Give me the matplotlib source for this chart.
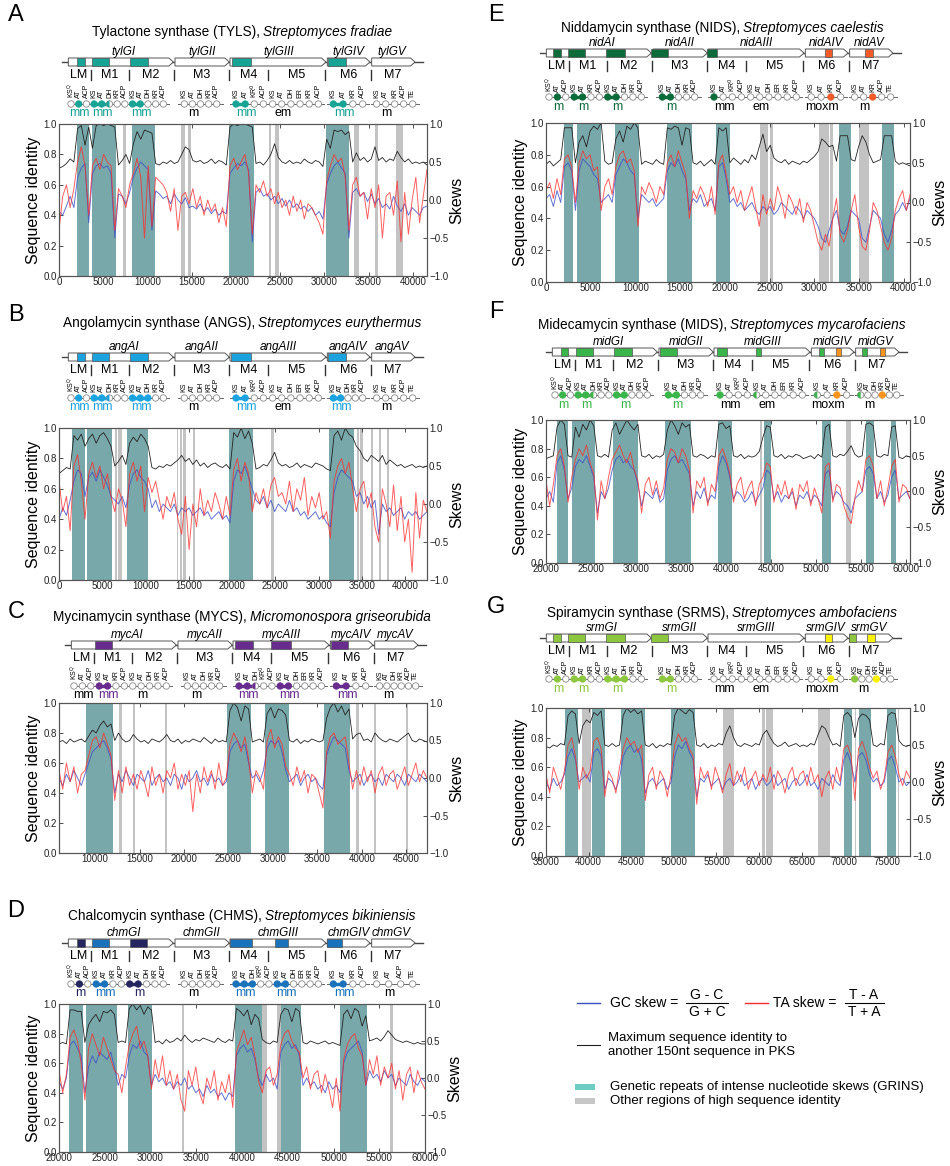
import matplotlib
matplotlib.use("Agg")
import matplotlib.pyplot as plt
import numpy as np
from matplotlib.patches import Circle, Wedge, Polygon, Rectangle
from matplotlib.ticker import MultipleLocator

plt.rcParams['font.family'] = ['Liberation Sans', 'DejaVu Sans']

W, H = 950, 1166

# ---------------- data ----------------
# Panel A - tylactone synthase
ident_A = [.71, .72, .74, .77, .75, .97, .99, .86, .98, .84,
           .99, 1.0, .99, 1.0, .99, .98, .73, .76, .80, .74,
           .87, .95, .90, .96, .95, .94, .74, .73, .75, .74,
           .76, .74, .75, .80, .85, .83, .76, .75, .76, .74,
           .75, .77, .74, .76, .75, .73, .98, 1.0, .99, 1.0,
           1.0, .99, .98, .74, .75, .73, .76, .80, .87, .78,
           .75, .74, .76, .74, .75, .74, .77, .75, .74, .76,
           .75, .72, .90, .84, .96, .95, .96, .93, .95, .75,
           .81, .76, .78, .75, .77, .85, .76, .78, .75, .77,
           .76, .82, .78, .75, .77, .74, .75, .74, .75, .73]
gc_A = [-.15, -.2, -.08, .05, -.1, .3, .42, .48, -.3, .35,
        .45, .48, .42, .45, .35, -.5, .08, .05, -.05, .1,
        .3, .42, .5, .45, .4, -.4, .12, .08, .02, .05,
        -.05, .08, 0, -.05, .03, -.1, -.08, -.12, -.05, -.15,
        -.1, -.18, -.12, -.2, -.15, -.18, .35, .42, .48, .45,
        .5, .4, -.55, .1, .15, .05, .08, 0, .05, -.05,
        .02, -.08, 0, -.1, -.05, -.12, -.08, -.15, -.1, -.2,
        -.15, -.25, .2, .35, .45, .5, .42, .35, -.5, .1,
        .15, .05, .1, -.02, .08, -.05, .02, -.1, -.05, -.12,
        .05, -.08, -.15, -.05, -.2, -.1, -.15, -.2, -.1, -.08]
ta_A = [-.4, .05, .2, -.1, .15, .5, .7, .45, -.2, .45,
        .55, .4, .6, .5, .45, -.4, .15, .05, -.1, .2,
        .35, .55, .3, -.5, .45, -.35, .3, .25, .2, .1,
        -.15, .15, -.4, .05, .1, -.05, .15, -.1, .05, -.2,
        0, -.15, -.05, -.3, -.1, -.35, .45, .55, .4, .5,
        .6, .35, -.45, .2, .1, .25, .05, .15, -.05, .1,
        -.1, 0, -.2, .05, -.15, 0, -.25, -.05, -.1, -.2,
        -.3, -.45, .25, .45, .6, .5, .55, .3, -.4, .2,
        .3, .05, .1, -.25, .15, -.1, .2, -.5, .05, .1,
        -.2, .25, -.55, .1, -.45, 0, .3, -.3, .05, .4]
teal_A = [(2000, 3400), (3700, 6430), (8230, 10870), (19250, 22000), (30230, 32830)]
grey_A = [(7280, 7580), (13800, 14200), (14570, 14940), (23700, 24000), (24450, 24830),
          (33400, 33890), (35700, 36070), (38150, 38500), (38550, 38870)]

# Panel B - angolamycin synthase
ident_B = [.70, .72, .74, .73, .95, .92, .96, .88, .93, .96,
           .90, .95, .97, .93, .88, .75, .78, .82, .76, .90,
           .94, .91, .96, .93, .88, .74, .73, .75, .74, .76,
           .75, .77, .79, .82, .78, .80, .76, .79, .75, .77,
           .74, .76, .77, .75, .74, .76, .73, .97, .94, 1.0,
           .93, .98, .90, .73, .74, .76, .75, .79, .84, .77,
           .75, .76, .74, .75, .77, .74, .76, .75, .74, .77,
           .76, .75, .73, .72, .95, .98, .92, 1.0, .96, .94,
           .88, .85, .80, .78, .82, .80, .78, .82, .76, .79,
           .77, .75, .76, .74, .75, .76, .74, .75, .74, .75]
gc_B = [-.2, -.05, -.15, .05, .3, .45, .4, .1, .35, .42,
        .3, .45, .35, .25, .1, .05, 0, .1, -.05, .25,
        .4, .45, .35, .3, .2, -.05, .05, -.1, 0, -.05,
        -.1, 0, -.15, -.05, -.1, -.05, -.15, -.1, -.05, -.15,
        -.1, -.2, -.15, -.1, -.2, -.15, -.25, .3, .45, .4,
        .5, .35, .2, .05, 0, .1, -.05, .05, -.1, 0,
        -.05, -.1, .05, -.1, -.05, -.15, -.1, -.2, -.15, -.1,
        -.2, -.15, -.25, -.3, .15, .35, .45, .4, .35, .3,
        .1, .15, 0, .1, -.05, .05, -.4, 0, -.1, -.05,
        -.15, -.1, -.05, -.2, -.1, -.15, -.1, -.2, -.15, -.1]
ta_B = [.3, -.1, .1, -.35, .5, .65, .3, -.2, .4, .55,
        .35, .5, .2, .4, .1, -.1, .2, .05, -.3, .4,
        .55, .3, .5, -.1, .35, .15, .3, .05, -.2, .1,
        -.05, .15, -.2, -.4, .1, -.6, 0, -.3, .2, -.15,
        .05, -.1, .15, 0, -.2, .1, -.15, .45, .6, .3,
        .55, .4, -.1, .15, 0, .2, -.05, .25, .35, .1,
        .15, 0, .3, -.1, .2, .05, .35, -.15, .1, -.05,
        .15, -.2, -.1, -.45, .3, .5, .6, .4, .55, .2,
        -.1, .2, .3, -.05, .15, -.3, -.5, .2, 0, -.3,
        .25, -.35, .1, -.5, -.2, -.9, .15, -.45, .05, -.1]
teal_B = [(1540, 3000), (3280, 6130), (7820, 10330), (19690, 22390), (31210, 34030)]
grey_B = [(6470, 6750), (6850, 7240), (13600, 13800), (14000, 14180), (14370, 14640),
          (15530, 15720), (24510, 24780), (34410, 34700), (34800, 35100), (36030, 36260),
          (36920, 37230), (37880, 38110)]

# Panel C - mycinamycin synthase
ident_C = [.74, .75, .73, .76, .74, .75, .76, .74, .78, .82,
           .80, .85, .88, .84, .86, .75, .80, .76, .74, .75,
           .79, .76, .74, .75, .73, .76, .75, .74, .76, .79,
           .75, .74, .76, .73, .75, .74, .76, .75, .74, .77,
           .75, .73, .76, .74, .75, .74, .95, 1.0, .97, .88,
           .98, .96, .74, .75, .76, .74, .93, .97, .90, .96,
           .95, .92, .75, .74, .76, .73, .75, .74, .76, .75,
           .74, .75, .90, .97, 1.0, .94, .98, .92, .96, .76,
           .79, .80, .75, .76, .74, .80, .77, .75, .74, .76,
           .75, .74, .76, .78, .80, .75, .74, .76, .75, .74]
gc_C = [0, -.1, .05, -.05, .1, 0, -.1, .05, .2, .35,
        .4, .45, .5, .4, .25, -.2, .05, -.05, .1, 0,
        -.1, .05, 0, -.05, .1, -.1, 0, .05, -.05, 0,
        -.1, .05, 0, -.15, .05, -.05, 0, .1, -.05, 0,
        -.1, .05, -.05, 0, -.1, -.05, .35, .45, .5, .4,
        .45, .2, 0, .05, -.05, .1, .4, .5, .45, .5,
        .35, .1, -.05, 0, .05, -.1, 0, .05, -.05, 0,
        -.1, -.15, .3, .45, .55, .5, .45, .4, .1, -.05,
        0, .05, -.1, 0, .05, -.05, 0, -.1, .05, 0,
        -.05, .05, 0, -.1, .05, 0, -.05, .05, 0, -.05]
ta_C = [.1, -.15, .2, -.05, .15, -.2, .05, .1, .3, .5,
        .55, .4, .6, .45, .3, -.3, .1, -.2, .15, -.1,
        .05, -.15, .1, -.05, -.25, .15, -.1, .05, -.2, .1,
        0, .2, -.15, .05, -.1, .1, -.45, .05, -.2, .15,
        -.05, .1, -.15, .2, -.1, 0, .45, .6, .5, .35,
        .55, .25, -.2, .1, 0, -.15, .5, .65, .4, .55,
        .45, .15, .05, -.1, .15, -.05, .1, -.2, .05, 0,
        -.2, -.4, .35, .55, .6, .45, .5, .55, .2, -.15,
        .1, -.1, .15, -.05, .1, -.2, .05, .15, -.1, .05,
        .1, -.15, 0, .15, -.1, .05, .2, -.05, .1, 0]
teal_C = [(8980, 11990), (24790, 27500), (29080, 31830), (35700, 38680)]
grey_C = [(12630, 13010), (14250, 14510), (17900, 18090), (39350, 39730),
          (41350, 41610), (44930, 45190)]

# Panel D - chalcomycin synthase
ident_D = [.73, .74, .73, .96, .96, .95, .95, .74, .86, .90,
           .93, .88, .95, .94, .96, .93, .74, .75, .74, .97,
           1.0, .96, .99, .93, .98, .96, .74, .75, .73, .76,
           .74, .75, .77, .75, .79, .76, .74, .76, .75, .77,
           .76, .75, .74, .77, .75, .74, .76, .75, .97, .95,
           .92, .96, .86, .93, .90, .76, .74, .73, .75, .74,
           .93, .97, .96, .88, .97, .95, .74, .73, .75, .74,
           .73, .74, .75, .73, .74, .73, .72, .93, .96, .90,
           .97, .95, .85, .92, .75, .76, .77, .75, .78, .82,
           .79, .76, .75, .74, .75, .74, .73, .74, .73, .73]
gc_D = [-.05, -.15, 0, .45, .5, .4, .3, -.2, .15, .3,
        .2, .35, .3, .25, .35, .15, -.1, .05, 0, .3,
        .45, .4, .5, .35, .3, -.1, .05, -.05, 0, -.1,
        -.05, -.15, -.05, -.1, 0, -.15, -.1, -.2, -.15, -.25,
        -.1, -.2, -.15, -.25, -.2, -.3, -.2, -.25, .3, .4,
        .45, .35, .4, .25, 0, -.1, .05, -.05, 0, -.15,
        .35, .45, .5, .4, .45, .3, -.1, 0, -.1, -.05,
        -.15, -.1, -.2, -.05, -.15, -.1, -.2, .2, .35, .4,
        .45, .5, .35, -.1, .1, 0, .05, -.05, .1, 0,
        .05, -.1, 0, -.05, -.1, .05, -.05, -.1, 0, -.05]
ta_D = [.1, -.2, .05, .55, .65, .5, .2, -.3, .4, .6,
        .45, .3, .55, .4, .25, .1, .05, -.2, .15, .45,
        .6, .7, .4, .5, .3, -.15, .25, 0, .3, -.1,
        .1, -.15, .05, -.3, -.45, .1, -.1, .15, -.2, -.35,
        0, -.15, .1, -.3, -.05, -.2, .05, -.4, .35, .5,
        .65, .45, .55, .3, -.05, -.2, .1, .15, -.1, .05,
        .45, .6, .65, .5, .4, .35, 0, .15, -.15, .05,
        .1, -.2, .05, -.15, -.4, 0, -.45, .25, .45, .55,
        .6, .4, .3, -.1, .25, .05, .3, -.1, .15, 0,
        .2, -.15, .1, -.3, .05, .15, -.2, .1, -.05, -.15]
teal_D = [(21130, 22590), (22950, 26380), (27500, 30130), (39240, 42150),
          (44260, 46450), (50710, 53620)]
grey_D = [(33480, 33660), (42150, 42700), (43860, 44230), (56170, 56470)]

# Panel E - niddamycin synthase
ident_E = [.74, .76, .73, .75, .77, .97, .97, .97, .75, .88,
           .92, .85, .95, .98, .96, 1.0, .76, .74, .75, .90,
           .95, .88, .98, .96, 1.0, .97, .74, .76, .75, .74,
           .77, .75, .74, .97, .96, .98, .97, .86, .97, .96,
           .75, .74, .76, .73, .75, .77, .74, .97, .95, .97,
           .75, .78, .76, .74, .77, .75, .80, .77, .85, .93,
           .82, .86, .78, .76, .75, .77, .74, .76, .75, .74,
           .76, .75, .77, .79, .82, .90, .88, .85, .86, .76,
           .92, .92, .92, .77, .76, .85, .92, .88, .80, .75,
           .76, .77, .92, .92, .92, .76, .74, .75, .74, .73]
gc_E = [.05, .1, -.05, .15, 0, .45, .5, .4, -.1, .4,
        .55, .5, .45, .35, .3, 0, .05, .1, 0, .35,
        .45, .55, .5, .4, .35, -.2, .1, .05, 0, .05,
        -.05, 0, .05, .4, .5, .45, .55, .4, .3, -.1,
        .05, 0, .1, -.05, 0, .05, -.1, .45, .5, .3,
        0, .05, -.05, 0, -.1, -.05, 0, -.1, -.15, -.05,
        -.1, -.05, -.15, -.1, 0, -.05, -.1, -.15, -.05, -.1,
        -.2, -.1, -.15, -.2, -.3, -.45, -.5, -.35, -.2, -.1,
        -.35, -.4, -.3, -.1, -.15, -.2, -.45, -.5, -.3, -.1,
        -.15, -.2, -.4, -.5, -.35, -.15, -.1, 0, -.1, .05]
ta_E = [.15, .25, .05, .3, .1, .55, .6, .45, 0, .5,
        .65, .55, .6, .4, .45, -.1, .2, .3, .1, .45,
        .6, .65, .5, .55, .4, -.3, .2, .1, .25, .15,
        0, .2, .1, .5, .6, .45, .65, .5, .35, -.2,
        .15, .05, .2, .1, -.05, .2, -.15, .5, .6, .35,
        .1, .2, 0, .15, -.1, .05, .2, -.05, -.3, .1,
        -.15, .05, -.1, .2, .05, -.2, .1, 0, -.15, .05,
        -.25, 0, -.1, -.3, -.5, -.6, -.4, -.55, -.2, .05,
        -.4, -.5, -.35, -.1, .1, -.3, -.55, -.6, -.35, 0,
        -.1, -.3, -.5, -.6, -.45, -.1, .05, .15, -.1, .1]
teal_E = [(2030, 3030), (3480, 6170), (7760, 10430), (13490, 16270), (19040, 20520),
          (32790, 34090), (37600, 38890)]
grey_E = [(23920, 24840), (25030, 25400), (30570, 31680), (31790, 32050), (35010, 36120)]

# Panel F - midecamycin synthase
ident_F = [.73, .74, .75, .95, 1.0, .97, .75, .74, .95, .88,
           .97, .93, 1.0, .96, .75, .74, .76, .74, .93, .98,
           .90, .95, 1.0, .96, .93, .97, .75, .74, .76, .73,
           .75, .74, .76, .93, 1.0, .96, .90, .98, .95, .97,
           .75, .74, .76, .75, .73, .75, .74, .97, .98, .94,
           .96, .75, .74, .76, .73, .75, .74, .75, .78, .88,
           .96, .95, .75, .74, .76, .73, .75, .74, .76, .75,
           .73, .74, .75, .73, .76, .74, .95, .97, .75, .74,
           .76, .75, .78, .82, .76, .74, .75, .97, .98, .96,
           .75, .74, .76, .75, .95, .96, .74, .73, .75, .74]
gc_F = [-.1, 0, -.15, .4, .5, .3, -.1, .05, .35, .45,
        .4, .5, .35, .2, -.3, 0, -.1, .05, .3, .45,
        .5, .4, .45, .35, .3, .1, -.2, 0, -.05, -.1,
        .05, -.15, -.1, .3, .45, .5, .4, .45, .35, .25,
        -.2, 0, -.1, .05, -.15, -.05, -.1, .35, .5, .4,
        .2, -.1, 0, -.05, -.15, -.1, 0, -.15, -.05, .05,
        .3, .25, -.1, 0, -.15, -.05, -.1, 0, -.2, -.05,
        -.1, 0, -.15, -.05, -.1, -.2, .25, .3, -.1, 0,
        -.05, -.15, -.2, -.3, -.1, -.05, 0, .3, .35, .25,
        -.1, 0, -.15, -.05, .2, .3, -.1, -.05, 0, -.1]
ta_F = [.15, -.2, .1, .5, .6, .35, -.15, .2, .45, .6,
        .5, .65, .4, .25, -.4, .15, -.1, .2, .45, .55,
        .65, .5, .4, .55, .3, .15, -.3, .1, .2, -.05,
        .15, -.1, .05, .45, .6, .55, .4, .6, .5, .3,
        -.3, .15, .05, .2, -.2, .1, 0, .5, .6, .45,
        .25, -.15, .1, .2, -.1, .05, .15, -.2, .1, .2,
        .4, .35, -.15, .1, -.05, .15, -.1, .05, -.25, .1,
        0, .15, -.2, .05, -.1, -.3, .35, .4, -.15, .1,
        .05, -.2, -.35, -.45, -.1, .15, 0, .45, .5, .35,
        -.1, .15, -.2, .05, .35, .45, -.15, .1, .05, -.1]
teal_F = [(21250, 22450), (22930, 25460), (27400, 30220), (33190, 36080), (39050, 40590),
          (44180, 44980), (50660, 51580), (55490, 56410), (58280, 58830)]
grey_F = [(43700, 43960), (49700, 49800), (53330, 53850)]

# Panel G - spiramycin synthase
ident_G = [.74, .73, .75, .74, .76, .75, .95, .98, .96, .76,
           .88, .92, .90, .97, .95, .98, .75, .74, .76, .74,
           .75, .95, 1.0, .97, .99, .96, .98, .75, .74, .76,
           .73, .75, .74, .76, .75, .95, 1.0, .98, .96, .99,
           .97, .75, .74, .76, .73, .75, .74, .76, .75, .83,
           .88, .80, .75, .74, .76, .75, .74, .76, .75, .82,
           .85, .80, .76, .74, .75, .77, .74, .75, .76, .74,
           .75, .74, .76, .75, .82, .88, .86, .80, .75, .76,
           .74, .95, .97, .94, .80, .93, .96, .95, .92, .75,
           .74, .76, .75, .95, .97, .96, .78, .75, .74, .75]
gc_G = [0, -.1, .05, -.05, 0, .1, .35, .45, .3, 0,
        .05, .1, 0, .4, .45, .35, -.1, .05, 0, -.1,
        .05, .35, .45, .5, .4, .45, .3, -.15, 0, .05,
        -.05, 0, .05, -.1, 0, .35, .5, .45, .55, .4,
        .3, -.2, .05, 0, .1, -.05, 0, .05, -.1, 0,
        .05, -.05, 0, .1, -.05, 0, .05, -.1, 0, .05,
        -.05, 0, .1, -.05, 0, .05, -.1, 0, .05, -.05,
        0, .1, -.05, 0, -.1, .05, 0, -.05, .1, 0,
        -.05, .3, .4, .25, 0, .35, .4, .3, .1, 0,
        .05, -.05, 0, .3, .35, .2, 0, .05, -.05, 0]
ta_G = [.1, -.15, .2, .05, -.1, .15, .5, .6, .35, -.1,
        .2, .05, .15, .55, .6, .45, -.2, .15, .05, -.15,
        .2, .45, .6, .5, .55, .4, .5, -.25, .1, .2,
        -.1, .15, .05, -.2, .1, .5, .65, .55, .6, .45,
        .35, -.3, .2, .05, .15, -.1, .2, .05, -.15, .1,
        .25, -.05, .15, 0, .2, -.1, .05, .15, -.05, .1,
        0, .2, -.1, .15, .05, -.15, .1, .2, -.05, .1,
        .15, -.05, .2, 0, .1, -.2, .05, .15, -.1, .2,
        0, .45, .5, .35, -.25, .45, .55, .4, .2, .05,
        .15, -.1, .05, .4, .5, .35, .1, -.05, .15, .05]
teal_G = [(37220, 38780), (40450, 41890), (43840, 46570), (49680, 52520),
          (69930, 70900), (71680, 73160), (75000, 76040)]
grey_G = [(39170, 40330), (55720, 57080), (60310, 60700), (60860, 61640),
          (66930, 68290), (71210, 71410), (76280, 76430)]

# ---------------- diagram vocabulary ----------------
KSQ = 'KS$^{\\rm Q}$'
KR0 = 'KR$^{\\rm 0}$'
LM = [KSQ, 'AT', 'ACP']
M_KR = ['KS', 'AT', 'KR', 'ACP']
M_DH = ['KS', 'AT', 'DH', 'KR', 'ACP']
M_ER = ['KS', 'AT', 'DH', 'ER', 'KR', 'ACP']
M_KR0 = ['KS', 'AT', KR0, 'ACP']
M_DHKR0 = ['KS', 'AT', 'DH', KR0, 'ACP']

MODULE_NAMES = ['LM', 'M1', 'M2', 'M3', 'M4', 'M5', 'M6', 'M7']
MODULE_X = [235, 330, 452, 605, 745, 890, 1045, 1178]
SEPARATORS = [272, 388, 522, 688, 805, 975, 1112]
GENE_SPANS = [(205, 520), (525, 688), (690, 978), (982, 1110), (1115, 1245)]
GENE_NAME_X = [372, 605, 835, 1045, 1175]
GENE_MODULES = [[0, 1, 2], [3], [4, 5], [6], [7]]
CIRCLE_SPANS = [(213, 490), (553, 650), (708, 955), (1000, 1088), (1130, 1238)]

panels = [
    dict(letter='A', title='Tylactone synthase (TYLS),', species='Streptomyces fradiae',
         genes=['tylGI', 'tylGII', 'tylGIII', 'tylGIV', 'tylGV'],
         colors={'a': '#17a495', 'b': '#17a495'},
         modules=[LM, M_DH, M_DH, M_DH, M_KR0, M_ER, M_KR, M_KR + ['TE']],
         fills=['.a.', 'aaA..', 'aa...', '.....', 'aa..', '......', 'aa..', '.....'],
         mlabels=[('mm', 'a'), ('mm', 'a'), ('mm', 'a'), ('m', 'k'), ('mm', 'a'), ('em', 'k'), ('mm', 'a'), ('m', 'k')],
         blocks=[(230, 255, 'a'), (275, 328, 'a'), (390, 445, 'a'), (695, 752, 'a'), (985, 1037, 'a')],
         xoff=0, shift=0, letter_y=15, title_y=32, arrow_y=62, circ_y=104,
         rect=(59, 124, 427, 276), xlim=(0, 41600),
         ident=ident_A, gc=gc_A, ta=ta_A, teal=teal_A, grey=grey_A),
    dict(letter='B', title='Angolamycin synthase (ANGS),', species='Streptomyces eurythermus',
         genes=['angAI', 'angAII', 'angAIII', 'angAIV', 'angAV'],
         colors={'a': '#1ba3e0', 'b': '#1ba3e0'},
         modules=[LM, M_DH, M_DH, M_DH, M_KR0, M_ER, M_DH, M_KR + ['TE']],
         fills=['.a.', 'aaA..', 'aaa..', '.....', 'aa..', '......', 'aa...', '.....'],
         mlabels=[('mm', 'a'), ('mm', 'a'), ('mm', 'a'), ('m', 'k'), ('mm', 'a'), ('em', 'k'), ('mm', 'a'), ('m', 'k')],
         blocks=[(230, 255, 'a'), (275, 328, 'a'), (390, 445, 'a'), (692, 752, 'a'), (985, 1037, 'a')],
         xoff=0, shift=0, letter_y=315, title_y=323, arrow_y=357, circ_y=398,
         rect=(59, 428, 427, 580), xlim=(0, 42500),
         ident=ident_B, gc=gc_B, ta=ta_B, teal=teal_B, grey=grey_B),
    dict(letter='C', title='Mycinamycin synthase (MYCS),', species='Micromonospora griseorubida',
         genes=['mycAI', 'mycAII', 'mycAIII', 'mycAIV', 'mycAV'],
         colors={'a': '#682b8e', 'b': '#682b8e'},
         modules=[LM, M_KR, M_DH, M_DH, M_DHKR0, M_ER, M_KR, M_DH + ['TE']],
         fills=['...', 'aa..', '.....', '.....', 'aaA..', 'aa....', 'aa..', '......'],
         mlabels=[('mm', 'k'), ('mm', 'a'), ('m', 'k'), ('m', 'k'), ('mm', 'a'), ('mm', 'a'), ('mm', 'a'), ('m', 'k')],
         blocks=[(275, 328, 'a'), (695, 750, 'a'), (805, 863, 'a'), (985, 1035, 'a')],
         xoff=0, shift=3, letter_y=612, title_y=617, arrow_y=645, circ_y=686,
         rect=(59, 703, 427, 853), xlim=(5935, 47330),
         ident=ident_C, gc=gc_C, ta=ta_C, teal=teal_C, grey=grey_C),
    dict(letter='D', title='Chalcomycin synthase (CHMS),', species='Streptomyces bikiniensis',
         genes=['chmGI', 'chmGII', 'chmGIII', 'chmGIV', 'chmGV'],
         colors={'a': '#25255f', 'b': '#1a73ba'},
         modules=[LM, M_KR, M_DH, M_DH, M_DHKR0, M_ER, M_KR, ['KS', 'AT', 'ACP', 'TE']],
         fills=['.a.', 'bb..', 'aa...', '.....', 'bbb..', 'bb....', 'bb..', '....'],
         mlabels=[('m', 'a'), ('mm', 'b'), ('m', 'a'), ('m', 'k'), ('mm', 'b'), ('mm', 'b'), ('mm', 'b'), ('m', 'k')],
         blocks=[(230, 255, 'a'), (275, 328, 'b'), (390, 442, 'a'), (690, 757, 'b'), (825, 865, 'b'), (980, 1027, 'b')],
         xoff=0, shift=0, letter_y=911, title_y=916, arrow_y=943, circ_y=984,
         rect=(59, 1004, 425, 1152), xlim=(20000, 60000),
         ident=ident_D, gc=gc_D, ta=ta_D, teal=teal_D, grey=grey_D),
    dict(letter='E', title='Niddamycin synthase (NIDS),', species='Streptomyces caelestis',
         genes=['nidAI', 'nidAII', 'nidAIII', 'nidAIV', 'nidAV'],
         colors={'a': '#0b6b3a', 'b': '#f15a29'},
         modules=[LM, M_KR, M_DH, M_DH, M_KR0, M_ER, M_KR, M_KR + ['TE']],
         fills=['.a.', 'aa..', 'aa...', 'aa...', 'a...', '......', '..b.', '..b..'],
         mlabels=[('m', 'a'), ('m', 'a'), ('m', 'a'), ('m', 'a'), ('mm', 'k'), ('em', 'k'), ('moxm', 'k'), ('m', 'k')],
         blocks=[(225, 250, 'a'), (270, 322, 'a'), (385, 440, 'a'), (518, 570, 'a'), (688, 718, 'a'),
                 (1040, 1062, 'b'), (1162, 1185, 'b')],
         xoff=480, shift=-2, letter_y=15, title_y=28, arrow_y=53, circ_y=97,
         rect=(546, 123, 910, 282), xlim=(0, 40700),
         ident=ident_E, gc=gc_E, ta=ta_E, teal=teal_E, grey=grey_E),
    dict(letter='F', title='Midecamycin synthase (MIDS),', species='Streptomyces mycarofaciens',
         genes=['midGI', 'midGII', 'midGIII', 'midGIV', 'midGV'],
         colors={'a': '#39b54a', 'b': '#f7941d'},
         modules=[LM, M_DH, M_DH, M_DH, M_KR0, M_ER, M_KR, M_DH + ['TE']],
         fills=['.a.', 'aaA..', 'aa...', 'aa...', 'a...', 'A.....', 'A.b.', 'A..b..'],
         mlabels=[('m', 'a'), ('m', 'a'), ('m', 'a'), ('m', 'a'), ('mm', 'k'), ('em', 'k'), ('moxm', 'k'), ('m', 'k')],
         blocks=[(230, 253, 'a'), (275, 327, 'a'), (390, 445, 'a'), (528, 580, 'a'), (698, 728, 'a'),
                 (815, 832, 'a'), (1005, 1020, 'a'), (1055, 1070, 'b'), (1133, 1148, 'a'), (1188, 1203, 'b')],
         xoff=480, shift=4, letter_y=312, title_y=325, arrow_y=352, circ_y=395,
         rect=(546, 420, 910, 563), xlim=(20000, 60400),
         ident=ident_F, gc=gc_F, ta=ta_F, teal=teal_F, grey=grey_F),
    dict(letter='G', title='Spiramycin synthase (SRMS),', species='Streptomyces ambofaciens',
         genes=['srmGI', 'srmGII', 'srmGIII', 'srmGIV', 'srmGV'],
         colors={'a': '#8dc63f', 'b': '#fff200'},
         modules=[LM, M_KR, M_DH, M_DH, M_KR0, M_ER, M_KR, M_DH + ['TE']],
         fills=['.a.', 'aa..', 'aaa..', 'aa...', '....', '......', '..b.', 'a..b..'],
         mlabels=[('m', 'a'), ('m', 'a'), ('m', 'a'), ('m', 'a'), ('mm', 'k'), ('em', 'k'), ('moxm', 'k'), ('m', 'k')],
         blocks=[(225, 250, 'a'), (270, 322, 'a'), (385, 440, 'a'), (518, 570, 'a'),
                 (1040, 1063, 'b'), (1112, 1135, 'a'), (1168, 1192, 'b')],
         xoff=480, shift=-2, letter_y=607, title_y=613, arrow_y=638, circ_y=679,
         rect=(546, 708, 910, 856), xlim=(35000, 77700),
         ident=ident_G, gc=gc_G, ta=ta_G, teal=teal_G, grey=grey_G),
]

TEAL = '#79a8aa'
GREY = '#c3c3c3'
EDGE = '#555555'

fig = plt.figure(figsize=(9.5, 11.66), dpi=100)
cv = fig.add_axes([0, 0, 1, 1])
cv.set_xlim(0, W)
cv.set_ylim(H, 0)
cv.axis('off')
renderer = fig.canvas.get_renderer()


def draw_diagram(p):
    X = lambda z: p['xoff'] + p['shift'] + z / 3.0
    cols = dict(p['colors'], k='black')
    ya, yc = p['arrow_y'], p['circ_y']
    h = 4.0
    cv.plot([X(185), X(1270)], [ya, ya], color='#444444', lw=1.0, zorder=1)
    for (z0, z1), name, gx in zip(GENE_SPANS, p['genes'], GENE_NAME_X):
        x0, x1 = X(z0), X(z1)
        tip = 4.5
        cv.add_patch(Polygon([(x0, ya - h), (x1 - tip, ya - h), (x1, ya), (x1 - tip, ya + h), (x0, ya + h)],
                             closed=True, fc='white', ec=EDGE, lw=0.7, zorder=2))
        cv.text(X(gx), ya - 10, name, style='italic', fontsize=8.5, ha='center', va='center')
    for z0, z1, ck in p['blocks']:
        cv.add_patch(Rectangle((X(z0), ya - h), X(z1) - X(z0), 2 * h, fc=cols[ck], ec=EDGE,
                               lw=0.5, zorder=3))
    # module names
    for name, mx in zip(MODULE_NAMES, MODULE_X):
        cv.text(X(mx), ya + 13, name, fontsize=9, ha='center', va='center')
    for sx in SEPARATORS:
        cv.plot([X(sx), X(sx)], [ya + 8, ya + 18], color='#333333', lw=1.0)
    # domains
    r = 3.2
    for g, mods in enumerate(GENE_MODULES):
        doms = []
        for m in mods:
            for d, lab in enumerate(p['modules'][m]):
                doms.append((m, d, lab, p['fills'][m][d]))
        xs = np.linspace(X(CIRCLE_SPANS[g][0]), X(CIRCLE_SPANS[g][1]), len(doms))
        left = xs[0] if g == 0 else xs[0] - 6
        cv.plot([left, xs[-1] + 6], [yc, yc], color='#666666', lw=0.7, zorder=1)
        for k in range(len(doms) - 1):
            c1, c2 = doms[k][3], doms[k + 1][3]
            if c1 in 'ab' and c2.lower() == c1:
                cv.plot([xs[k], xs[k + 1]], [yc, yc], color=cols[c1], lw=2.5, zorder=2)
        for x, (m, d, lab, code) in zip(xs, doms):
            if code in 'ab':
                cv.add_patch(Circle((x, yc), r, fc=cols[code], ec=cols[code], lw=0.6, zorder=3))
            else:
                cv.add_patch(Circle((x, yc), r, fc='white', ec='#888888', lw=0.6, zorder=3))
                if code in 'AB':
                    cv.add_patch(Wedge((x, yc), r, 90, 270, fc=cols[code.lower()], ec='none', zorder=4))
            cv.text(x, yc - 5.5, lab, rotation=90, fontsize=5, ha='center', va='bottom')
        # modification labels sit under the AT domain of each module
        for m in mods:
            mxs = [x for x, dd in zip(xs, doms) if dd[0] == m]
            txt, ck = p['mlabels'][m]
            cv.text(mxs[1] + 1, yc + 9.5, txt, fontsize=9, ha='center', va='center', color=cols[ck])


def draw_title(p):
    cx = p['xoff'] + 242
    y = p['title_y']
    t1 = cv.text(0, y, p['title'], fontsize=9.8, ha='left', va='center')
    t2 = cv.text(0, y, p['species'], fontsize=9.8, style='italic', ha='left', va='center')
    w1 = t1.get_window_extent(renderer).width
    w2 = t2.get_window_extent(renderer).width
    gap = 3.0
    x0 = cx - (w1 + gap + w2) / 2
    t1.set_x(x0)
    t2.set_x(x0 + w1 + gap)
    cv.text(p['xoff'] + 16, p['letter_y'], p['letter'], fontsize=17, ha='center', va='center')


def draw_plot(p):
    x0, y0, x1, y1 = p['rect']
    ax = fig.add_axes([x0 / W, 1 - y1 / H, (x1 - x0) / W, (y1 - y0) / H])
    ax2 = ax.twinx()
    for a, b in p['grey']:
        ax.axvspan(a, b, color=GREY, lw=0, zorder=1)
    for a, b in p['teal']:
        ax.axvspan(a, b, color=TEAL, lw=0, zorder=2)
    xi = np.linspace(p['xlim'][0], p['xlim'][1], len(p['ident']))
    ax.plot(xi, p['ident'], color='#222222', lw=0.6, zorder=3)
    xg = np.linspace(p['xlim'][0], p['xlim'][1], len(p['gc']))
    xt = np.linspace(p['xlim'][0], p['xlim'][1], len(p['ta']))
    ax2.plot(xg, p['gc'], color='#3b4fc4', lw=0.7, alpha=0.8)
    ax2.plot(xt, p['ta'], color='#ff2a2a', lw=0.7, alpha=0.75)
    ax.set_xlim(*p['xlim'])
    ax.set_ylim(0, 1)
    ax2.set_ylim(-1, 1)
    ax.set_yticks([0, 0.2, 0.4, 0.6, 0.8, 1.0])
    ax2.set_yticks([-1, -0.5, 0, 0.5, 1])
    ax.xaxis.set_major_locator(MultipleLocator(5000))
    ax.set_ylabel('Sequence identity', fontsize=11.5, labelpad=2)
    ax2.set_ylabel('Skews', fontsize=11.5, labelpad=1)
    for a in (ax, ax2):
        a.tick_params(direction='in', length=3, width=0.6, labelsize=7, pad=1.5, colors='#333333',
                      labelcolor='#222222')
        for s in a.spines.values():
            s.set_color('#555555')
            s.set_linewidth(0.8)
    ax.tick_params(axis='x', top=True, pad=1)


for p in panels:
    draw_diagram(p)
    draw_title(p)
    draw_plot(p)

# ---------------- legend ----------------
cv.plot([577, 600], [1003, 1003], color='#3b4fc4', lw=1.0)
cv.text(610, 1003, 'GC skew =', fontsize=10, va='center', ha='left')
cv.text(707, 995, 'G - C', fontsize=10, va='center', ha='center')
cv.plot([686, 728], [1003, 1003], color='black', lw=0.8)
cv.text(707, 1012, 'G + C', fontsize=10, va='center', ha='center')
cv.plot([745, 768], [1003, 1003], color='#ff2a2a', lw=1.0)
cv.text(773, 1003, 'TA skew =', fontsize=10, va='center', ha='left')
cv.text(864, 995, 'T - A', fontsize=10, va='center', ha='center')
cv.plot([845, 884], [1003, 1003], color='black', lw=0.8)
cv.text(864, 1012, 'T + A', fontsize=10, va='center', ha='center')

cv.plot([577, 600], [1045, 1045], color='#222222', lw=0.8)
cv.text(608, 1038, 'Maximum sequence identity to', fontsize=9.5, va='center', ha='left')
cv.text(608, 1052, 'another 150nt sequence in PKS', fontsize=9.5, va='center', ha='left')
cv.add_patch(Rectangle((575, 1084), 20, 6, fc='#6dcdc3', ec='none'))
cv.text(610, 1087, 'Genetic repeats of intense nucleotide skews (GRINS)', fontsize=9.5, va='center', ha='left')
cv.add_patch(Rectangle((575, 1098), 20, 6, fc='#c6c6c6', ec='none'))
cv.text(610, 1101, 'Other regions of high sequence identity', fontsize=9.5, va='center', ha='left')

fig.savefig('out.png', dpi=100)
